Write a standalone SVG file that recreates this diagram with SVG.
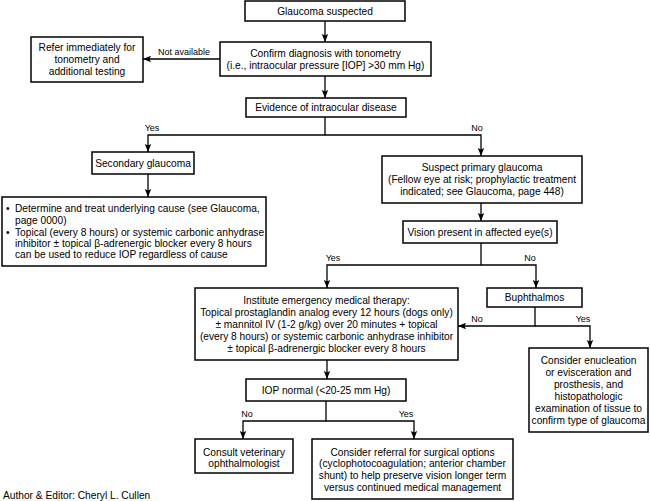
<svg xmlns="http://www.w3.org/2000/svg" width="650" height="501" viewBox="0 0 650 501">
<style>
  .box{fill:#fff;stroke:#000;stroke-width:1.5}
  text{font-family:"Liberation Sans",Arial,Helvetica,sans-serif;font-size:10.2px;fill:#000}
  .c{text-anchor:middle}
  .lbl{font-size:9px;text-anchor:middle}
  .ln{fill:none;stroke:#000;stroke-width:1.3}
</style>
<defs>
  <marker id="ah" markerUnits="userSpaceOnUse" markerWidth="8" markerHeight="8" viewBox="0 0 8 8" refX="8" refY="4" orient="auto">
    <path d="M0,0.8 L8,4 L0,7.2 L1.5,4 z" fill="#000"/>
  </marker>
</defs>
<rect width="650" height="501" fill="#fff"/>
<g id="connectors">
  <line class="ln" x1="325" y1="21" x2="325" y2="42" marker-end="url(#ah)"/>
  <line class="ln" x1="325" y1="76" x2="325" y2="98" marker-end="url(#ah)"/>
  <line class="ln" x1="220" y1="59" x2="143" y2="59" marker-end="url(#ah)"/>
  <text class="lbl" x="184" y="55">Not available</text>
  <polyline class="ln" points="325,117 325,135 148,135 148,152" marker-end="url(#ah)"/>
  <polyline class="ln" points="325,135 481,135 481,156" marker-end="url(#ah)"/>
  <text class="lbl" x="152" y="131">Yes</text>
  <text class="lbl" x="477" y="131">No</text>
  <line class="ln" x1="148" y1="174" x2="148" y2="197" marker-end="url(#ah)"/>
  <line class="ln" x1="481" y1="203" x2="481" y2="221" marker-end="url(#ah)"/>
  <polyline class="ln" points="481,243 481,265 327,265 327,288" marker-end="url(#ah)"/>
  <polyline class="ln" points="481,265 536,265 536,288" marker-end="url(#ah)"/>
  <text class="lbl" x="333" y="261">Yes</text>
  <text class="lbl" x="530" y="261">No</text>
  <polyline class="ln" points="535,307 535,326 458,326" marker-end="url(#ah)"/>
  <polyline class="ln" points="535,326 590,326 590,348" marker-end="url(#ah)"/>
  <text class="lbl" x="477" y="322">No</text>
  <text class="lbl" x="583" y="322">Yes</text>
  <line class="ln" x1="327" y1="360" x2="327" y2="379" marker-end="url(#ah)"/>
  <polyline class="ln" points="326,401 326,421 243,421 243,439" marker-end="url(#ah)"/>
  <polyline class="ln" points="326,421 414,421 414,439" marker-end="url(#ah)"/>
  <text class="lbl" x="247" y="417">No</text>
  <text class="lbl" x="406" y="417">Yes</text>
</g>
<g id="n1">
  <rect class="box" x="245" y="1" width="160" height="20"/>
  <text class="c" x="325" y="15">Glaucoma suspected</text>
</g>
<g id="n2">
  <rect class="box" x="220" y="42" width="211" height="34"/>
  <text class="c" x="325.5" y="57">Confirm diagnosis with tonometry</text>
  <text class="c" x="325.5" y="69">(i.e., intraocular pressure [IOP] &gt;30 mm Hg)</text>
</g>
<g id="n3">
  <rect class="box" x="31" y="37" width="112" height="45"/>
  <text class="c" x="87" y="51">Refer immediately for</text>
  <text class="c" x="87" y="63">tonometry and</text>
  <text class="c" x="87" y="75">additional testing</text>
</g>
<g id="n4">
  <rect class="box" x="246" y="98" width="160" height="19"/>
  <text class="c" x="326" y="111">Evidence of intraocular disease</text>
</g>
<g id="n5">
  <rect class="box" x="92" y="152" width="102" height="22"/>
  <text class="c" x="143" y="167">Secondary glaucoma</text>
</g>
<g id="n6">
  <rect class="box" x="2" y="197" width="264" height="69"/>
  <text x="6" y="212">•</text>
  <text x="15" y="212">Determine and treat underlying cause (see Glaucoma,</text>
  <text x="15" y="224">page 0000)</text>
  <text x="6" y="236">•</text>
  <text x="15" y="236">Topical (every 8 hours) or systemic carbonic anhydrase</text>
  <text x="15" y="247">inhibitor ± topical β-adrenergic blocker every 8 hours</text>
  <text x="15" y="258">can be used to reduce IOP regardless of cause</text>
</g>
<g id="n7">
  <rect class="box" x="382" y="156" width="200" height="47"/>
  <text class="c" x="482" y="171">Suspect primary glaucoma</text>
  <text class="c" x="482" y="183">(Fellow eye at risk; prophylactic treatment</text>
  <text class="c" x="482" y="195">indicated; see Glaucoma, page 448)</text>
</g>
<g id="n8">
  <rect class="box" x="403" y="221" width="154" height="22"/>
  <text class="c" x="480" y="236">Vision present in affected eye(s)</text>
</g>
<g id="n9">
  <rect class="box" x="195" y="288" width="263" height="72"/>
  <text class="c" x="326.5" y="304">Institute emergency medical therapy:</text>
  <text class="c" x="326.5" y="316">Topical prostaglandin analog every 12 hours (dogs only)</text>
  <text class="c" x="326.5" y="328">± mannitol IV (1-2 g/kg) over 20 minutes + topical</text>
  <text class="c" x="326.5" y="340">(every 8 hours) or systemic carbonic anhydrase inhibitor</text>
  <text class="c" x="326.5" y="352">± topical β-adrenergic blocker every 8 hours</text>
</g>
<g id="n10">
  <rect class="box" x="487" y="288" width="95" height="19"/>
  <text class="c" x="534.5" y="301">Buphthalmos</text>
</g>
<g id="n11">
  <rect class="box" x="529" y="348" width="119" height="84"/>
  <text class="c" x="588.5" y="364">Consider enucleation</text>
  <text class="c" x="588.5" y="376">or evisceration and</text>
  <text class="c" x="588.5" y="388">prosthesis, and</text>
  <text class="c" x="588.5" y="400">histopathologic</text>
  <text class="c" x="588.5" y="412">examination of tissue to</text>
  <text class="c" x="588.5" y="424">confirm type of glaucoma</text>
</g>
<g id="n12">
  <rect class="box" x="246" y="379" width="160" height="22"/>
  <text class="c" x="326" y="394">IOP normal (&lt;20-25 mm Hg)</text>
</g>
<g id="n13">
  <rect class="box" x="195" y="439" width="98" height="34"/>
  <text class="c" x="244" y="456">Consult veterinary</text>
  <text class="c" x="244" y="467">ophthalmologist</text>
</g>
<g id="n14">
  <rect class="box" x="312" y="439" width="201" height="60"/>
  <text class="c" x="412.5" y="456">Consider referral for surgical options</text>
  <text class="c" x="412.5" y="467">(cyclophotocoagulation; anterior chamber</text>
  <text class="c" x="412.5" y="479">shunt) to help preserve vision longer term</text>
  <text class="c" x="412.5" y="491">versus continued medical management</text>
</g>
<text x="3" y="499">Author &amp; Editor: Cheryl L. Cullen</text>
</svg>
